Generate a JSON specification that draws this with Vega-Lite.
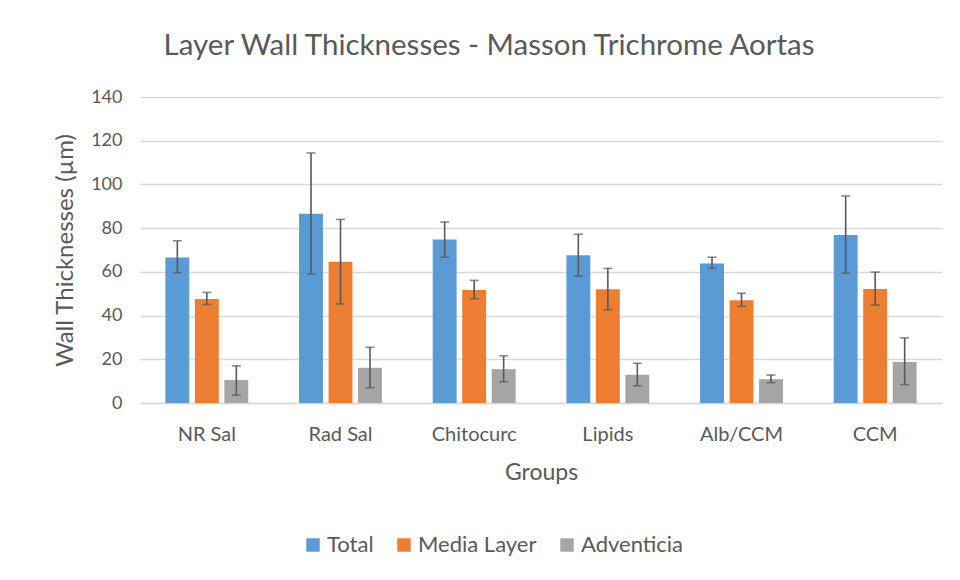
{
  "$schema": "https://vega.github.io/schema/vega-lite/v6.json",
  "width": 802,
  "height": 306,
  "autosize": {"type": "none"},
  "padding": {"left": 140, "top": 97, "right": 18, "bottom": 177},
  "background": "white",
  "title": {
    "text": "Layer Wall Thicknesses - Masson Trichrome Aortas",
    "fontSize": 29.5,
    "font": "Lato",
    "fontWeight": "normal",
    "color": "#595959",
    "anchor": "middle",
    "dx": -52,
    "offset": 27
  },
  "data": {
    "values": [
      {"group": "NR Sal", "series": "Total", "value": 66.6, "lo": 59.6, "hi": 74.2},
      {"group": "NR Sal", "series": "Media Layer", "value": 47.6, "lo": 45.1, "hi": 50.6},
      {"group": "NR Sal", "series": "Adventicia", "value": 10.5, "lo": 3.6, "hi": 17.0},
      {"group": "Rad Sal", "series": "Total", "value": 86.6, "lo": 59.0, "hi": 114.4},
      {"group": "Rad Sal", "series": "Media Layer", "value": 64.6, "lo": 45.3, "hi": 84.0},
      {"group": "Rad Sal", "series": "Adventicia", "value": 16.1, "lo": 7.0, "hi": 25.5},
      {"group": "Chitocurc", "series": "Total", "value": 74.8, "lo": 66.7, "hi": 82.8},
      {"group": "Chitocurc", "series": "Media Layer", "value": 51.7, "lo": 47.7, "hi": 56.1},
      {"group": "Chitocurc", "series": "Adventicia", "value": 15.5, "lo": 9.7, "hi": 21.6},
      {"group": "Lipids", "series": "Total", "value": 67.6, "lo": 58.1, "hi": 77.2},
      {"group": "Lipids", "series": "Media Layer", "value": 52.0, "lo": 42.6, "hi": 61.6},
      {"group": "Lipids", "series": "Adventicia", "value": 12.9, "lo": 7.9, "hi": 18.2},
      {"group": "Alb/CCM", "series": "Total", "value": 63.8, "lo": 61.6, "hi": 66.7},
      {"group": "Alb/CCM", "series": "Media Layer", "value": 47.0, "lo": 44.2, "hi": 50.2},
      {"group": "Alb/CCM", "series": "Adventicia", "value": 10.9, "lo": 9.3, "hi": 12.8},
      {"group": "CCM", "series": "Total", "value": 76.9, "lo": 59.4, "hi": 94.7},
      {"group": "CCM", "series": "Media Layer", "value": 52.1, "lo": 44.8, "hi": 59.9},
      {"group": "CCM", "series": "Adventicia", "value": 18.8, "lo": 8.4, "hi": 29.8}
    ]
  },
  "encoding": {
    "x": {
      "field": "group",
      "type": "nominal",
      "sort": null,
      "scale": {"paddingInner": 0.38, "paddingOuter": 0.19},
      "axis": {
        "title": "Groups",
        "labelAngle": 0,
        "labelFontSize": 20,
        "titleFontSize": 23,
        "titleFontWeight": "normal",
        "labelPadding": 21,
        "titlePadding": 17,
        "ticks": false,
        "domainColor": "#D9D9D9",
        "domainWidth": 1.5
      }
    },
    "xOffset": {
      "field": "series",
      "type": "nominal",
      "sort": ["Total", "Media Layer", "Adventicia"],
      "scale": {"paddingInner": 0.19, "paddingOuter": 0}
    }
  },
  "layer": [
    {
      "mark": {"type": "bar"},
      "encoding": {
        "y": {
          "field": "value",
          "type": "quantitative",
          "scale": {"domain": [0, 140], "nice": false},
          "axis": {
            "title": "Wall Thicknesses (µm)",
            "values": [0, 20, 40, 60, 80, 100, 120, 140],
            "labelFontSize": 18,
            "titleFontSize": 24,
            "titleFontWeight": "normal",
            "labelPadding": 18,
            "titlePadding": 13,
            "ticks": false,
            "domain": false,
            "gridColor": "#D9D9D9",
            "gridWidth": 1.5
          }
        },
        "color": {
          "field": "series",
          "type": "nominal",
          "sort": ["Total", "Media Layer", "Adventicia"],
          "scale": {
            "domain": ["Total", "Media Layer", "Adventicia"],
            "range": ["#5B9BD5", "#ED7D31", "#A5A5A5"]
          },
          "legend": {
            "title": null,
            "orient": "none",
            "direction": "horizontal",
            "legendX": 162,
            "legendY": 437,
            "symbolType": "square",
            "symbolSize": 180,
            "symbolStrokeWidth": 0,
            "labelFontSize": 22,
            "labelOffset": 3,
            "columnPadding": 19
          }
        }
      }
    },
    {
      "mark": {"type": "rule", "color": "#595959", "strokeWidth": 1.6},
      "encoding": {
        "y": {"field": "lo", "type": "quantitative"},
        "y2": {"field": "hi"}
      }
    },
    {
      "mark": {"type": "tick", "color": "#595959", "size": 9, "thickness": 1.6, "orient": "horizontal"},
      "encoding": {
        "y": {"field": "lo", "type": "quantitative"}
      }
    },
    {
      "mark": {"type": "tick", "color": "#595959", "size": 9, "thickness": 1.6, "orient": "horizontal"},
      "encoding": {
        "y": {"field": "hi", "type": "quantitative"}
      }
    }
  ],
  "config": {
    "font": "Lato",
    "view": {"stroke": null},
    "axis": {"labelColor": "#595959", "titleColor": "#595959", "labelFont": "Lato", "titleFont": "Lato"},
    "legend": {"labelColor": "#595959", "labelFont": "Lato"}
  }
}
